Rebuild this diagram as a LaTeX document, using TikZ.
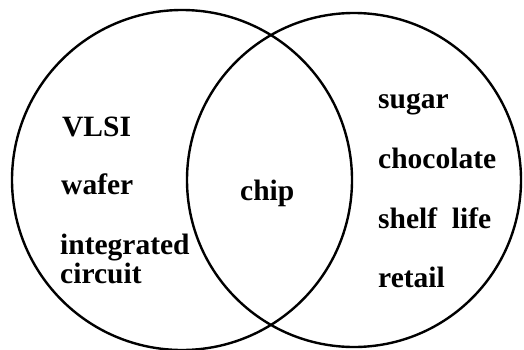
\documentclass[tikz,border=0pt]{standalone}
\usepackage{fontspec}
\setmainfont{Liberation Serif}
\begin{document}
\begin{tikzpicture}[x = 1pt, y = 1pt,
    set/.style = {line width = 2.4pt},
    word/.style = {anchor = base west, inner sep = 0pt,
      font = \fontsize{29.5}{32}\selectfont\bfseries}]
      \useasboundingbox (0,0) rectangle (524,349);
      \draw [set] (182,169) circle (170);
      \draw [set] (354,169) circle (167);
      \node [word] (vlsi) at (62,213) {VLSI};
      \node [word] (wafer) at (61,155) {wafer};
      \node [word] (ic) at (60,95) {integrated};
      \node [word] (circuit) at (60,66) {circuit};
      \node [word] (chip) at (240,149) {chip};
      \node [word] (sugar) at (378,241) {sugar};
      \node [word] (choc) at (378,181) {chocolate};
      \node [word] (shelf) at (378,121) {shelf\ \ life};
      \node [word] (retail) at (378,62) {retail};
    \end{tikzpicture}
\end{document}
